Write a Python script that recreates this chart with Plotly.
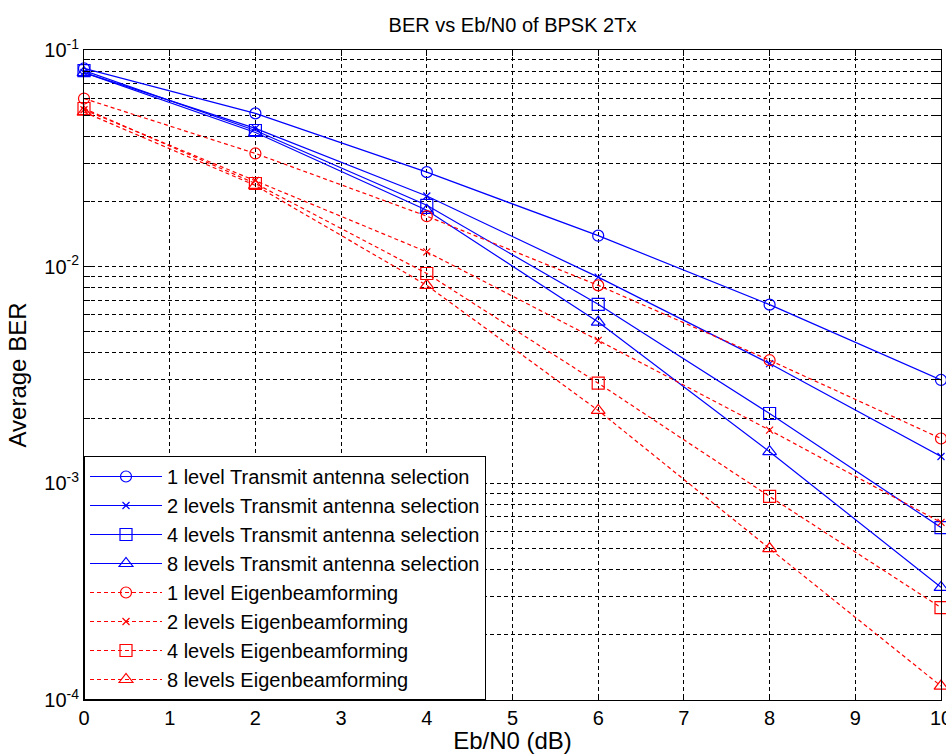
import plotly.graph_objects as go

# Eb/N0 points (dB)
ebn0 = [0, 2, 4, 6, 8, 10]

# Average BER, transmit antenna selection (1/2/4/8 feedback levels)
tas_1 = [0.0822, 0.0510, 0.0273, 0.0139, 0.00668, 0.00300]
tas_2 = [0.0787, 0.0435, 0.0212, 0.00895, 0.00357, 0.00133]
tas_4 = [0.0804, 0.0425, 0.0192, 0.00670, 0.00210, 0.000625]
tas_8 = [0.0787, 0.0416, 0.0182, 0.00555, 0.00140, 0.000331]

# Average BER, eigenbeamforming (1/2/4/8 feedback levels)
ebf_1 = [0.0597, 0.0333, 0.0171, 0.0082, 0.0037, 0.00161]
ebf_2 = [0.0530, 0.0250, 0.0117, 0.00457, 0.00176, 0.00066]
ebf_4 = [0.0537, 0.0242, 0.0093, 0.0029, 0.00087, 0.000267]
ebf_8 = [0.0517, 0.0237, 0.0082, 0.00217, 0.00050, 0.000116]

names_tas = ["1 level Transmit antenna selection",
             "2 levels Transmit antenna selection",
             "4 levels Transmit antenna selection",
             "8 levels Transmit antenna selection"]
names_ebf = ["1 level Eigenbeamforming",
             "2 levels Eigenbeamforming",
             "4 levels Eigenbeamforming",
             "8 levels Eigenbeamforming"]

y_decades = [1e-4, 1e-3, 1e-2, 1e-1]
y_decade_labels = ["10<sup>-4</sup>", "10<sup>-3</sup>", "10<sup>-2</sup>", "10<sup>-1</sup>"]
y_minor = [k * d for d in (1e-4, 1e-3, 1e-2) for k in range(2, 10)]

FONT = "Liberation Sans, Arial, sans-serif"
BLUE = "#0000ff"
RED = "#ff0000"
symbols = ["circle-open", "x-thin-open", "square-open", "triangle-up-open"]
sizes = [11, 7, 12, 12]

fig = go.Figure()
for ys, name, sym, sz in zip([tas_1, tas_2, tas_4, tas_8], names_tas, symbols, sizes):
    fig.add_trace(go.Scatter(
        x=ebn0, y=ys, name=name, mode="lines+markers", cliponaxis=False,
        line=dict(color=BLUE, width=1.2),
        marker=dict(symbol=sym, size=sz, color=BLUE, line=dict(color=BLUE, width=1.2)),
    ))
for ys, name, sym, sz in zip([ebf_1, ebf_2, ebf_4, ebf_8], names_ebf, symbols, sizes):
    fig.add_trace(go.Scatter(
        x=ebn0, y=ys, name=name, mode="lines+markers", cliponaxis=False,
        line=dict(color=RED, width=1.2, dash="4px,3px"),
        marker=dict(symbol=sym, size=sz, color=RED, line=dict(color=RED, width=1.2)),
    ))

grid = dict(showgrid=True, gridcolor="black", gridwidth=1, griddash="4px,3px")

fig.update_layout(
    width=946, height=754,
    margin=dict(l=84, r=5, t=50, b=54, autoexpand=False),
    paper_bgcolor="white", plot_bgcolor="white",
    font=dict(family=FONT, size=20, color="black"),
    title=dict(text="BER vs Eb/N0 of BPSK 2Tx", x=0.5, xref="paper",
               y=1 - 25 / 754, yref="container", yanchor="middle",
               font=dict(size=20)),
    showlegend=True,
    legend=dict(x=0, y=0, xanchor="left", yanchor="bottom",
                bgcolor="white", bordercolor="black", borderwidth=1,
                font=dict(size=20), itemwidth=72, tracegroupgap=0),
    xaxis=dict(range=[0, 10], tickmode="linear", tick0=0, dtick=1,
               ticks="inside", ticklen=6, tickcolor="black",
               ticklabeloverflow="allow", automargin=False,
               showline=True, linecolor="black", linewidth=1, mirror="ticks",
               zeroline=False, title=dict(text="Eb/N0 (dB)", standoff=6),
               **grid),
    yaxis=dict(type="log", range=[-4, -1], tickmode="array",
               tickvals=y_decades, ticktext=y_decade_labels,
               ticks="inside", ticklen=10, tickcolor="black",
               automargin=False,
               showline=True, linecolor="black", linewidth=1, mirror="ticks",
               zeroline=False, title=dict(text="Average BER", standoff=10),
               minor=dict(tickmode="array", tickvals=y_minor, ticks="inside",
                          ticklen=6, tickcolor="black", **grid),
               **grid),
)

fig.write_html("out.html")
